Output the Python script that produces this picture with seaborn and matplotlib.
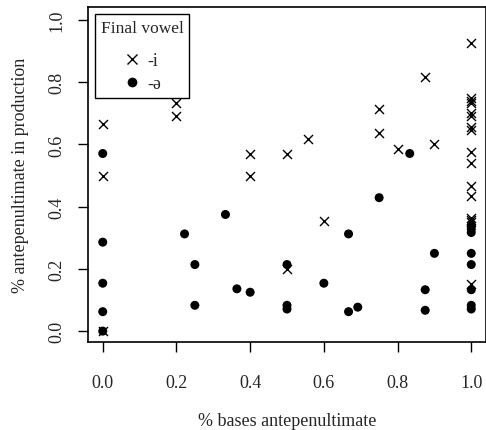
import matplotlib
matplotlib.use("Agg")
import matplotlib.pyplot as plt
import seaborn as sns
import pandas as pd
from matplotlib.lines import Line2D

# Final vowel -i (crosses)
i_x = [0.0, 0.0, 0.0, 0.2, 0.2, 0.4, 0.4, 0.5, 0.5, 0.556, 0.6, 0.75, 0.75, 0.8, 0.875, 0.9,
       1.0, 1.0, 1.0, 1.0, 1.0, 1.0, 1.0, 1.0, 1.0, 1.0, 1.0, 1.0, 1.0, 1.0, 1.0, 1.0]
i_y = [0.667, 0.5, 0.0, 0.733, 0.692, 0.571, 0.5, 0.571, 0.2, 0.617, 0.355, 0.714, 0.636, 0.585, 0.818, 0.6,
       0.925, 0.75, 0.74, 0.733, 0.7, 0.69, 0.655, 0.647, 0.575, 0.542, 0.467, 0.435, 0.364, 0.357, 0.35, 0.15]

# Final vowel -ə (dots)
e_x = [0.0, 0.0, 0.0, 0.0, 0.0, 0.222, 0.25, 0.25, 0.333, 0.364, 0.4, 0.5, 0.5, 0.5, 0.6,
       0.667, 0.667, 0.692, 0.75, 0.833, 0.875, 0.875, 0.9,
       1.0, 1.0, 1.0, 1.0, 1.0, 1.0, 1.0, 1.0]
e_y = [0.571, 0.286, 0.154, 0.0625, 0.0, 0.3125, 0.214, 0.083, 0.375, 0.136, 0.125, 0.214, 0.083, 0.071, 0.154,
       0.3125, 0.0625, 0.077, 0.429, 0.571, 0.133, 0.067, 0.25,
       0.339, 0.328, 0.317, 0.25, 0.214, 0.133, 0.083, 0.071]

labels = ["-i", "-ə"]
ticks = [0.0, 0.2, 0.4, 0.6, 0.8, 1.0]
tick_labels = ["0.0", "0.2", "0.4", "0.6", "0.8", "1.0"]

df_i = pd.DataFrame({"x": i_x, "y": i_y})
df_e = pd.DataFrame({"x": e_x, "y": e_y})

sns.set_style("ticks")
plt.rcParams["font.family"] = ["Liberation Serif", "DejaVu Serif"]

fig = plt.figure(figsize=(4.86, 4.31), dpi=100)
ax = fig.add_axes([88 / 486, (431 - 343) / 431, (486 - 88) / 486, (343 - 8) / 431])

sns.scatterplot(data=df_i, x="x", y="y", marker="x", s=42, color="black", linewidth=1.0, ax=ax)
sns.scatterplot(data=df_e, x="x", y="y", marker="o", s=42, color="black", edgecolor="none", ax=ax)

ax.set_xlim(-0.04, 1.04)
ax.set_ylim(-0.035, 1.042)
ax.set_xticks(ticks)
ax.set_yticks(ticks)
ax.set_xticklabels(tick_labels, fontsize=13)
ax.set_yticklabels(tick_labels, fontsize=13, rotation=90, va="center")
ax.tick_params(axis="both", direction="out", length=7, width=1, color="black")
ax.tick_params(axis="x", pad=16)
ax.tick_params(axis="y", pad=9)
for s in ax.spines.values():
    s.set_visible(True)
    s.set_color("black")
    s.set_linewidth(1.2)

ax.set_xlabel("% bases antepenultimate", fontsize=13, labelpad=15)
ax.set_ylabel("% antepenultimate in production", fontsize=13, labelpad=14)

handles = [Line2D([], [], marker="x", color="black", linestyle="none", markersize=7, markeredgewidth=1.0),
           Line2D([], [], marker="o", color="black", linestyle="none", markersize=7, markeredgecolor="none")]
leg = ax.legend(handles, labels, title="Final vowel", loc="upper left", fontsize=13,
                title_fontsize=12.5, frameon=True, fancybox=False, borderaxespad=0.4,
                handletextpad=0.4, labelspacing=0.35, borderpad=0.3, handlelength=1.0,
                alignment="center")
leg._legend_box.sep = 0.3 * 13 + 8
leg.get_frame().set_edgecolor("black")
leg.get_frame().set_linewidth(1.0)
leg.get_frame().set_alpha(1)

fig.savefig("out.png", dpi=100)
